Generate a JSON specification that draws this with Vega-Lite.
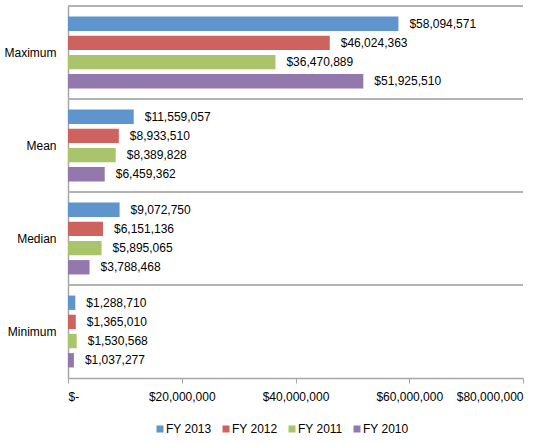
{
  "$schema": "https://vega.github.io/schema/vega-lite/v6.json",
  "autosize": {"type": "none"},
  "width": 455,
  "height": 372,
  "padding": {"left": 68, "top": 6, "right": 36, "bottom": 65},
  "background": "white",
  "config": {
    "view": {"stroke": null},
    "font": "Liberation Sans",
    "axis": {"labelFont": "Liberation Sans", "labelFontSize": 12, "labelColor": "#000000"},
    "legend": {"labelFont": "Liberation Sans", "labelFontSize": 12, "labelColor": "#000000"}
  },
  "data": {
    "values": [
      {"category": "Maximum", "year": "FY 2013", "value": 58094571},
      {"category": "Maximum", "year": "FY 2012", "value": 46024363},
      {"category": "Maximum", "year": "FY 2011", "value": 36470889},
      {"category": "Maximum", "year": "FY 2010", "value": 51925510},
      {"category": "Mean", "year": "FY 2013", "value": 11559057},
      {"category": "Mean", "year": "FY 2012", "value": 8933510},
      {"category": "Mean", "year": "FY 2011", "value": 8389828},
      {"category": "Mean", "year": "FY 2010", "value": 6459362},
      {"category": "Median", "year": "FY 2013", "value": 9072750},
      {"category": "Median", "year": "FY 2012", "value": 6151136},
      {"category": "Median", "year": "FY 2011", "value": 5895065},
      {"category": "Median", "year": "FY 2010", "value": 3788468},
      {"category": "Minimum", "year": "FY 2013", "value": 1288710},
      {"category": "Minimum", "year": "FY 2012", "value": 1365010},
      {"category": "Minimum", "year": "FY 2011", "value": 1530568},
      {"category": "Minimum", "year": "FY 2010", "value": 1037277}
    ]
  },
  "encoding": {
    "y": {
      "field": "category",
      "type": "nominal",
      "sort": ["Maximum", "Mean", "Median", "Minimum"],
      "scale": {"paddingInner": 0, "paddingOuter": 0},
      "axis": {"title": null, "ticks": false, "domainColor": "#a6a6a6", "domainWidth": 1.5, "labelPadding": 12}
    }
  },
  "layer": [
    {
      "mark": {"type": "rule", "color": "#b3b3b3", "strokeWidth": 1.5},
      "encoding": {
        "y": {"field": "category", "type": "nominal", "sort": ["Maximum", "Mean", "Median", "Minimum"], "bandPosition": 0}
      }
    },
    {
      "mark": {"type": "bar"},
      "encoding": {
        "x": {
          "field": "value",
          "type": "quantitative",
          "scale": {"domain": [0, 80000000], "nice": false},
          "axis": {
            "title": null,
            "grid": false,
            "values": [0, 20000000, 40000000, 60000000, 80000000],
            "labelExpr": "datum.value == 0 ? '$-' : '$' + format(datum.value, ',')",
            "domainColor": "#a6a6a6",
            "domainWidth": 1.5,
            "tickColor": "#a6a6a6",
            "tickSize": 5,
            "labelPadding": 8
          }
        },
        "yOffset": {
          "field": "year",
          "type": "nominal",
          "sort": ["FY 2013", "FY 2012", "FY 2011", "FY 2010"],
          "scale": {"paddingInner": 0.25, "paddingOuter": 0.55}
        },
        "color": {
          "field": "year",
          "type": "nominal",
          "sort": ["FY 2013", "FY 2012", "FY 2011", "FY 2010"],
          "scale": {"domain": ["FY 2013", "FY 2012", "FY 2011", "FY 2010"], "range": ["#5F95CD", "#CD625E", "#A9C46B", "#9378AE"]},
          "legend": {
            "title": null,
            "orient": "none",
            "direction": "horizontal",
            "legendX": 86,
            "legendY": 417,
            "symbolType": "square",
            "symbolSize": 49,
            "symbolStrokeWidth": 0,
            "labelOffset": 0,
            "columnPadding": 8,
            "padding": 0
          }
        }
      }
    },
    {
      "mark": {"type": "text", "align": "left", "dx": 11, "fontSize": 12, "color": "#000000", "font": "Liberation Sans"},
      "encoding": {
        "x": {"field": "value", "type": "quantitative"},
        "yOffset": {
          "field": "year",
          "type": "nominal",
          "sort": ["FY 2013", "FY 2012", "FY 2011", "FY 2010"]
        },
        "text": {"field": "value", "type": "quantitative", "format": "$,.0f"}
      }
    }
  ]
}
